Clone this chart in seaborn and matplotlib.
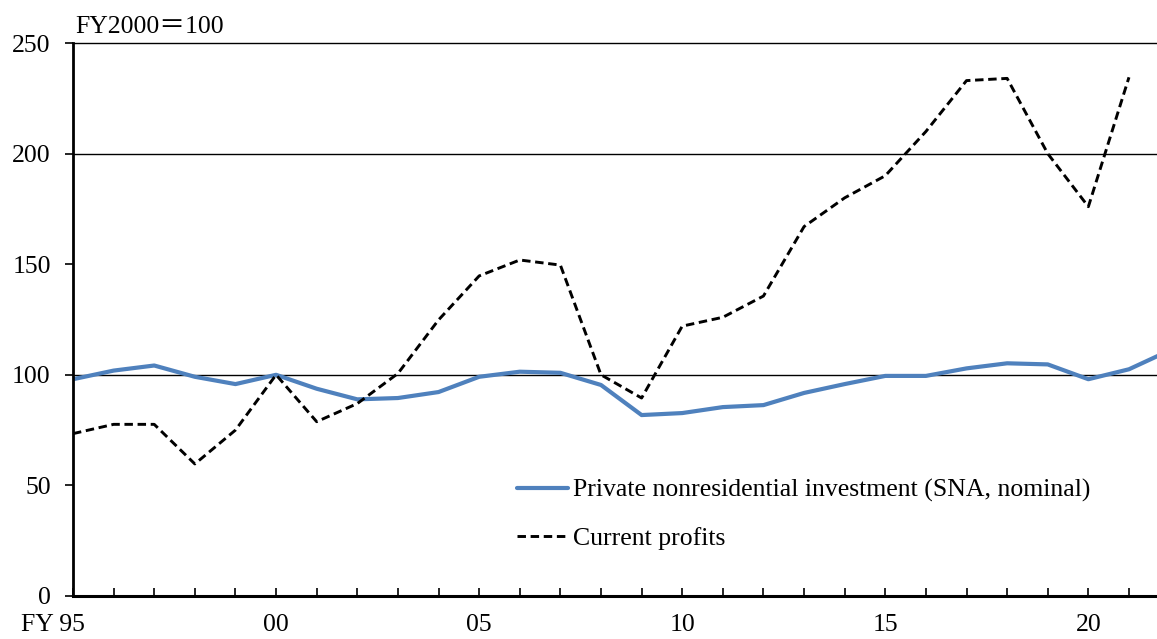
import numpy as np
import pandas as pd
import matplotlib
matplotlib.use("Agg")
import matplotlib.pyplot as plt
import matplotlib.transforms as mtransforms
import seaborn as sns

years = list(range(1995, 2023))
investment = [98, 101.9, 104.2, 99.1, 95.8, 100, 93.7, 88.9, 89.5, 92.2,
              99.1, 101.4, 100.9, 95.4, 81.8, 82.7, 85.4, 86.3, 91.8, 95.8,
              99.5, 99.5, 102.9, 105.2, 104.7, 98, 102.5, 111]
profits = [73.4, 77.6, 77.6, 59.7, 75, 100, 78.8, 87, 100.6, 124.8,
           144.7, 151.9, 149.6, 100, 89.5, 122, 126, 135.6, 167, 180,
           190, 210, 233, 234, 200, 176, 234.5]

df_inv = pd.DataFrame({"year": years, "value": investment})
df_pro = pd.DataFrame({"year": years[:len(profits)], "value": profits})

sns.set_style("white")
plt.rcParams["font.family"] = ["Liberation Serif", "Noto Sans CJK JP", "DejaVu Sans"]
plt.rcParams["text.color"] = "black"
plt.rcParams["xtick.color"] = "black"
plt.rcParams["ytick.color"] = "black"

fs = 18.5
fig = plt.figure(figsize=(11.57, 6.39), dpi=100)
ax = fig.add_axes([73/1157, 43/639, 1 - 73/1157, 553/639])

sns.lineplot(data=df_inv, x="year", y="value", ax=ax, color="#4F81BD", lw=3.0,
             label="Private nonresidential investment (SNA, nominal)")
sns.lineplot(data=df_pro, x="year", y="value", ax=ax, color="black", lw=2.1,
             linestyle=(0, (2.9, 1.6)), label="Current profits")

for yv in [100, 200]:
    ax.axhline(yv, color="black", lw=1.0, zorder=0)

ax.set_xlim(1995, 2021.69)
ax.set_ylim(0, 250)
ax.set_yticks([0, 50, 100, 150, 200, 250])
ax.set_xticks(range(1995, 2022))
xlabels = []
for y in range(1995, 2022):
    if y == 1995:
        xlabels.append("FY 95")
    elif y % 5 == 0:
        xlabels.append(f"{y % 100:02d}")
    else:
        xlabels.append("")
ax.set_xticklabels(xlabels)
ax.set_xlabel("")
ax.set_ylabel("")

ax.tick_params(axis="x", direction="in", length=6, width=1.2, pad=13, labelsize=fs, bottom=True,
               labelcolor="black")
ax.tick_params(axis="y", direction="out", length=6, width=1.2, pad=10, labelsize=fs, left=True,
               labelcolor="black")

ax.spines["right"].set_visible(False)
ax.spines["top"].set_linewidth(1.0)
ax.spines["left"].set_linewidth(2)
ax.spines["bottom"].set_linewidth(2.2)
for s in ax.spines.values():
    s.set_color("black")

lbl = ax.get_xticklabels()[0]
lbl.set_transform(lbl.get_transform() + mtransforms.ScaledTranslation(-0.2, 0, fig.dpi_scale_trans))

leg = ax.legend(loc="upper left", bbox_to_anchor=(0.41, 0.212), frameon=False, fontsize=fs,
                handlelength=1.95, handletextpad=0.2, labelspacing=0.95,
                borderpad=0, borderaxespad=0)
for t in leg.get_texts():
    t.set_color("black")

fig.text(75/1157, 1 - 33/639, "FY2000＝100", fontsize=fs, va="baseline", ha="left", color="black")

fig.savefig("out.png", dpi=100)
